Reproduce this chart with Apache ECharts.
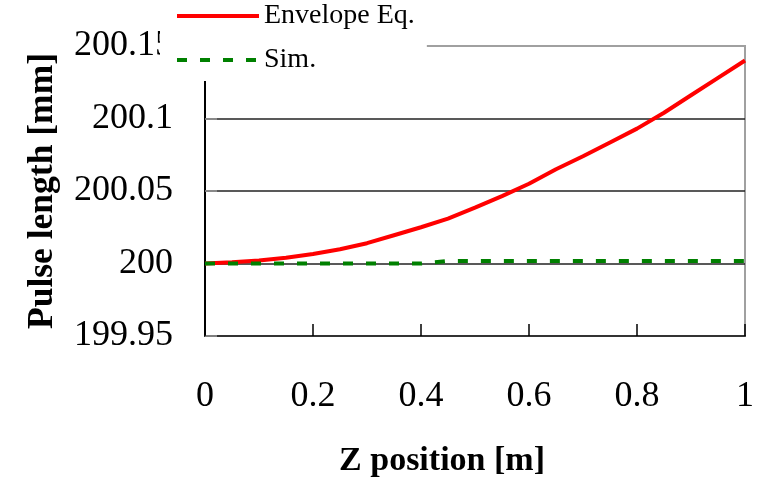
<!DOCTYPE html>
<html>
<head>
<meta charset="utf-8">
<script src="https://cdn.jsdelivr.net/npm/echarts@6/dist/echarts.min.js"></script>
<style>
  html, body { margin: 0; padding: 0; background: #fff; }
  #chart { width: 767px; height: 479px; }
</style>
</head>
<body>
<div id="chart"></div>
<script>
// z position [m]
var zPos = [0, 0.05, 0.1, 0.15, 0.2, 0.25, 0.3, 0.35, 0.4, 0.45, 0.5,
  0.55, 0.6, 0.65, 0.7, 0.75, 0.8, 0.85, 0.9, 0.95, 1];
// envelope equation, pulse length [mm]
var envelope = [200, 200.0008, 200.002, 200.004, 200.0066, 200.0098, 200.014,
  200.0195, 200.025, 200.031, 200.0385, 200.0465, 200.055, 200.065,
  200.074, 200.0835, 200.093, 200.104, 200.116, 200.128, 200.14];
// simulation
var sim = [200, 200, 200, 200, 200, 200, 200, 200, 200, 200.0018, 200.0018,
  200.0018, 200.0018, 200.0018, 200.0018, 200.0018, 200.0018, 200.0018,
  200.0018, 200.0018, 200.0018];

var serif = 'Liberation Serif';

function pairs(ys) {
  return zPos.map(function (z, i) { return [z, ys[i]] })
}
function fmt(v) {
  return String(parseFloat(v.toFixed(2)))
}

var chart = echarts.init(document.getElementById('chart'))
chart.setOption({
  backgroundColor: '#fff',
  animation: false,
  // x axis title sits left of the plot centre in the original
  title: {
    text: 'Z position [m]',
    left: 442,
    top: 444,
    textAlign: 'center',
    padding: 0,
    textStyle: {
      fontFamily: serif,
      fontSize: 34,
      fontWeight: 'bold',
      color: '#000'
    }
  },
  grid: {
    left: 205,
    right: 22,
    top: 46,
    bottom: 143,
    show: true,
    borderColor: '#a0a0a0',
    borderWidth: 2
  },
  legend: {
    orient: 'vertical',
    left: 160,
    top: 0,
    padding: [1, 12, 6, 15],
    itemGap: 14,
    itemWidth: 82,
    itemHeight: 14,
    backgroundColor: '#fff',
    itemStyle: { opacity: 0 },
    lineStyle: { width: 4 },
    textStyle: {
      fontFamily: serif,
      fontSize: 28,
      lineHeight: 30,
      color: '#000'
    },
    data: ['Envelope Eq.', 'Sim.']
  },
  xAxis: {
    type: 'value',
    min: 0,
    max: 1,
    interval: 0.2,
    axisLine: { onZero: false, lineStyle: { color: '#333', width: 2 } },
    axisTick: { inside: true, length: 12, lineStyle: { color: '#000', width: 1.5 } },
    axisLabel: {
      margin: 43,
      fontFamily: serif,
      fontSize: 36,
      color: '#000',
      formatter: fmt
    },
    splitLine: { show: false }
  },
  yAxis: {
    type: 'value',
    min: 199.95,
    max: 200.15,
    interval: 0.05,
    name: 'Pulse length [mm]',
    nameLocation: 'middle',
    nameGap: 144,
    nameTextStyle: {
      fontFamily: serif,
      fontSize: 35.5,
      fontWeight: 'bold',
      color: '#000'
    },
    axisLine: { onZero: false, lineStyle: { color: '#000', width: 2 } },
    axisTick: { inside: true, length: 12, lineStyle: { color: '#999', width: 1.5 } },
    axisLabel: {
      margin: 32,
      fontFamily: serif,
      fontSize: 36,
      color: '#000',
      formatter: fmt
    },
    splitLine: {
      show: true,
      lineStyle: { color: ['#333', '#222', '#222', '#222', '#a0a0a0'], width: 1.5 }
    }
  },
  series: [
    {
      name: 'Envelope Eq.',
      type: 'line',
      data: pairs(envelope),
      symbol: 'none',
      lineStyle: { color: '#ff0000', width: 4 },
      itemStyle: { color: '#ff0000' },
      z: 3
    },
    {
      name: 'Sim.',
      type: 'line',
      data: pairs(sim),
      symbol: 'none',
      lineStyle: { color: '#008000', width: 4, type: [10, 13] },
      itemStyle: { color: '#008000' },
      z: 4
    }
  ]
})
</script>
</body>
</html>
